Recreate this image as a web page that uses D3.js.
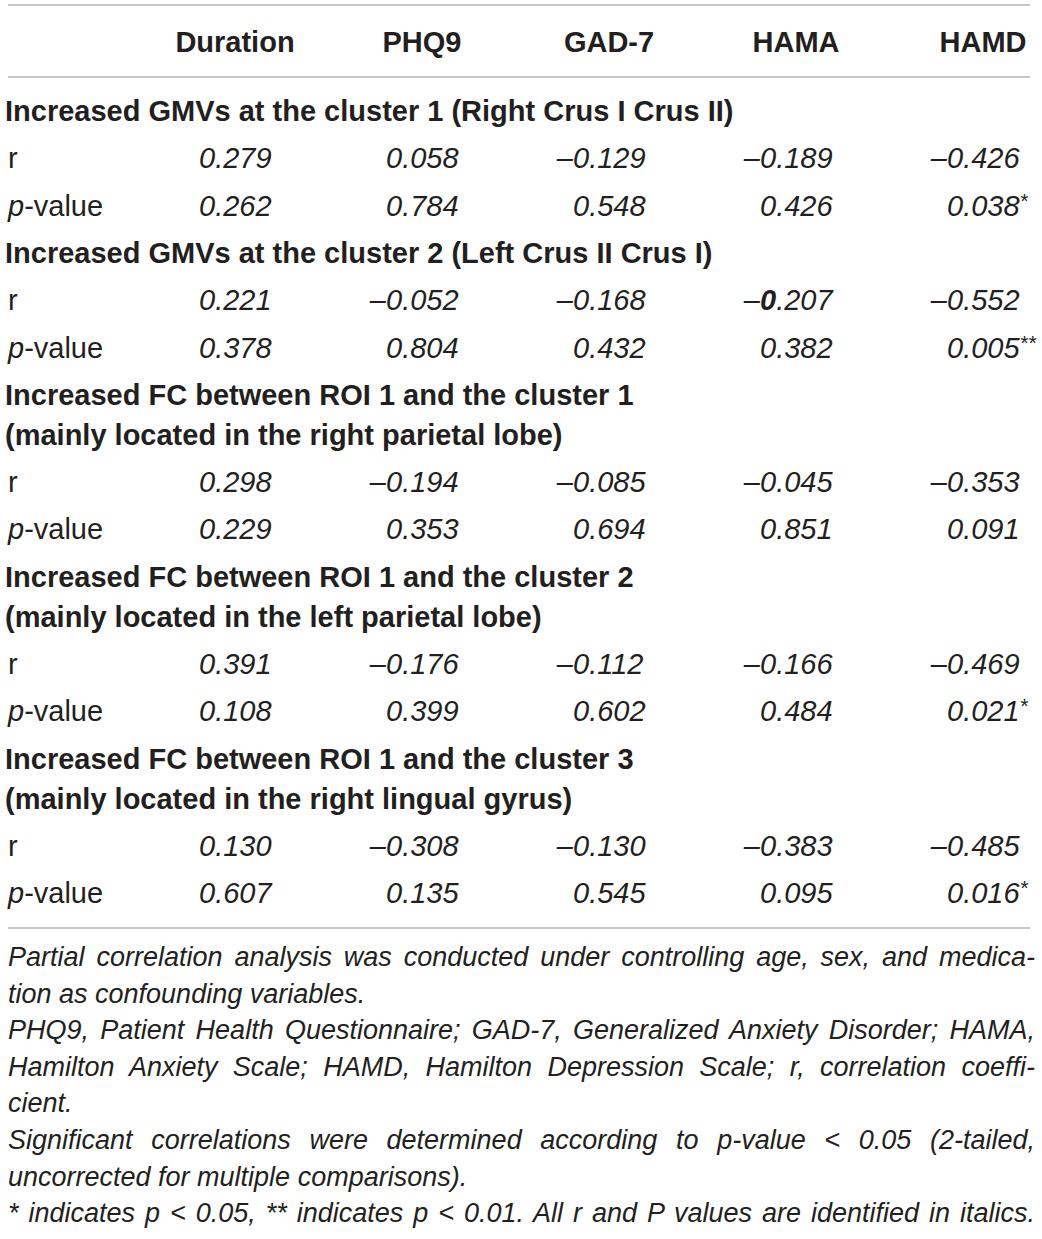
<!DOCTYPE html>
<html>
  <head>
    <meta charset="UTF-8">
    <title>Partial correlations</title>
    <style>
    html, body {
      margin: 0;
      background-color: white;
    }
    svg {
      display: block;
    }
    text {
      font-family: 'Liberation Sans', Arial, sans-serif;
      fill: #231f20;
    }
    .head, .section {
      font-weight: bold;
      font-size: 29px;
    }
    .label, .value {
      font-size: 29px;
    }
    .value, .note {
      font-style: italic;
    }
    .note {
      font-size: 27px;
    }
    .rule {
      stroke: #b4b4b4;
      stroke-width: 1.6;
    }
    </style>
  </head>

  <body>
  <script src="https://d3js.org/d3.v7.min.js"></script>
  <script>
  // Column headers
  var columns = ['Duration', 'PHQ9', 'GAD-7', 'HAMA', 'HAMD'];
  // Section titles (each entry is the wrapped lines of one title)
  var sections = [
    ['Increased GMVs at the cluster 1 (Right Crus I Crus II)'],
    ['Increased GMVs at the cluster 2 (Left Crus II Crus I)'],
    ['Increased FC between ROI 1 and the cluster 1', '(mainly located in the right parietal lobe)'],
    ['Increased FC between ROI 1 and the cluster 2', '(mainly located in the left parietal lobe)'],
    ['Increased FC between ROI 1 and the cluster 3', '(mainly located in the right lingual gyrus)']
  ];
  // Correlation coefficients, one row per section
  var rValues = [
    [0.279, 0.058, -0.129, -0.189, -0.426],
    [0.221, -0.052, -0.168, -0.207, -0.552],
    [0.298, -0.194, -0.085, -0.045, -0.353],
    [0.391, -0.176, -0.112, -0.166, -0.469],
    [0.130, -0.308, -0.130, -0.383, -0.485]
  ];
  // p-values, one row per section
  var pValues = [
    [0.262, 0.784, 0.548, 0.426, 0.038],
    [0.378, 0.804, 0.432, 0.382, 0.005],
    [0.229, 0.353, 0.694, 0.851, 0.091],
    [0.108, 0.399, 0.602, 0.484, 0.021],
    [0.607, 0.135, 0.545, 0.095, 0.016]
  ];
  // Footnote lines, and whether each one is set justified
  var notes = [
    'Partial correlation analysis was conducted under controlling age, sex, and medica-',
    'tion as confounding variables.',
    'PHQ9, Patient Health Questionnaire; GAD-7, Generalized Anxiety Disorder; HAMA,',
    'Hamilton Anxiety Scale; HAMD, Hamilton Depression Scale; r, correlation coeffi-',
    'cient.',
    'Significant correlations were determined according to p-value < 0.05 (2-tailed,',
    'uncorrected for multiple comparisons).',
    '* indicates p < 0.05, ** indicates p < 0.01. All r and P values are identified in italics.'
  ];
  var notesJustified = [true, false, true, true, false, true, false, true];

  var width = 1042, height = 1239;
  var left = 8, right = 1030;
  var noteWidth = 1027;
  var fmt = d3.format('.3f');

  var svg = d3.select('body').append('svg')
    .attr('width', width)
    .attr('height', height);

  // x position where the "0.xxx" digits of each column start
  var x = d3.scalePoint().domain(columns).range([199, 947]);
  var digitHalf = 36;

  // Row layout: build a list of rows, then place them by cumulative offsets
  var rowStep = 47.3, wrapStep = 40;
  var rows = [];
  sections.forEach(function (lines, s) {
    lines.forEach(function (line, j) {
      rows.push({type: 'section', text: line, gap: j === 0 ? rowStep : wrapStep});
    });
    rows.push({type: 'r', section: s, gap: rowStep});
    rows.push({type: 'p', section: s, gap: rowStep});
  });
  var yPos = 121 - rowStep;
  rows.forEach(function (d) {
    yPos += d.gap;
    d.y = yPos;
  });

  // Rules
  var tableBottom = 928;
  svg.selectAll('line.rule')
    .data([5, 77, tableBottom])
    .enter()
    .append('line')
    .attr('class', 'rule')
    .attr('x1', left)
    .attr('x2', right)
    .attr('y1', function (d) { return d; })
    .attr('y2', function (d) { return d; });

  // Header
  svg.selectAll('text.head')
    .data(columns)
    .enter()
    .append('text')
    .attr('class', 'head')
    .attr('x', function (d) { return x(d) + digitHalf; })
    .attr('y', 52)
    .attr('text-anchor', 'middle')
    .text(function (d) { return d; });

  // Section titles
  svg.selectAll('text.section')
    .data(rows.filter(function (d) { return d.type === 'section'; }))
    .enter()
    .append('text')
    .attr('class', 'section')
    .attr('x', 5)
    .attr('y', function (d) { return d.y; })
    .text(function (d) { return d.text; });

  // Row labels and values
  var valueRows = rows.filter(function (d) { return d.type !== 'section'; });
  valueRows.forEach(function (row) {
    var label = svg.append('text')
      .attr('class', 'label')
      .attr('x', 8)
      .attr('y', row.y);
    if (row.type === 'r') {
      label.text('r');
    } else {
      label.append('tspan').style('font-style', 'italic').text('p');
      label.append('tspan').text('-value');
    }

    var vals = row.type === 'r' ? rValues[row.section] : pValues[row.section];
    var cells = svg.selectAll(null)
      .data(vals.map(function (v, i) { return {v: v, col: columns[i], row: row}; }))
      .enter()
      .append('g')
      .attr('transform', function (d) { return 'translate(' + x(d.col) + ',' + row.y + ')'; });

    // minus sign hangs to the left of the digits
    cells.filter(function (d) { return d.v < 0; })
      .append('text')
      .attr('class', 'value')
      .attr('text-anchor', 'end')
      .text('\u2013');

    var num = cells.append('text')
      .attr('class', 'value');
    num.each(function (d) {
      var t = d3.select(this);
      var s = fmt(Math.abs(d.v));
      // the HAMA coefficient of cluster 2 has its leading zero set bold
      if (d.row.type === 'r' && d.row.section === 1 && d.col === 'HAMA') {
        t.append('tspan').style('font-weight', 'bold').text(s.charAt(0));
        t.append('tspan').text(s.slice(1));
      } else {
        t.append('tspan').text(s);
      }
      if (d.row.type === 'p' && d.v < 0.05) {
        t.append('tspan')
          .attr('font-size', '21px')
          .attr('dy', -8)
          .text(d.v < 0.01 ? '**' : '*');
      }
    });
  });

  // Footnotes: justified lines get their slack spread over the word gaps
  svg.selectAll('text.note')
    .data(notes)
    .enter()
    .append('text')
    .attr('class', 'note')
    .attr('x', left)
    .attr('y', function (d, i) { return 966 + i * 36.6; })
    .text(function (d) { return d; })
    .each(function (d, i) {
      if (!notesJustified[i]) return;
      var natural = this.getComputedTextLength();
      var gaps = d.split(' ').length - 1;
      var extra = (noteWidth - natural) / gaps;
      if (extra >= 0) {
        d3.select(this).attr('word-spacing', extra);
      } else {
        d3.select(this).attr('textLength', noteWidth).attr('lengthAdjust', 'spacing');
      }
    });
  </script>
  </body>
</html>
